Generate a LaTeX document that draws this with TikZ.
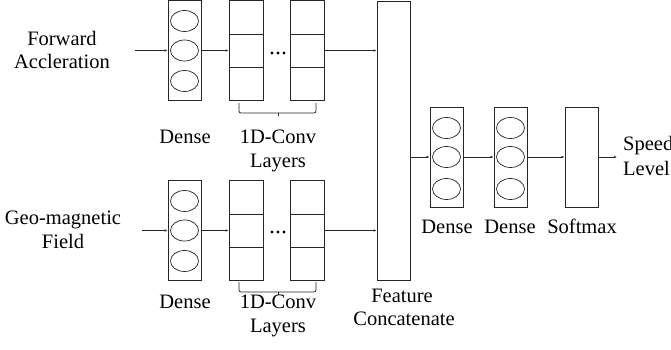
\documentclass[tikz,border=0pt]{standalone}
\usepackage{fontspec}
\setmainfont{Liberation Serif}
\usetikzlibrary{arrows.meta,shapes.geometric}
\begin{document}
\begin{tikzpicture}[x=1pt,y=-1pt,
  lay/.style={draw=black!85,line width=0.8pt,inner sep=0pt,minimum width=33pt,minimum height=100pt},
  tall/.style={draw=black!85,line width=0.8pt,inner sep=0pt,minimum width=33pt,minimum height=279pt},
  neuron/.style={draw=black!85,line width=0.7pt,ellipse,inner sep=0pt,minimum width=28pt,minimum height=21pt},
  div/.style={draw=black!85,line width=0.8pt},
  conn/.style={draw=black!85,line width=0.8pt,-{Latex[length=3pt,width=2.5pt]}},
  brace/.style={draw=black!85,line width=0.8pt,rounded corners=2pt},
  lbl/.style={font=\fontsize{20.5}{24}\selectfont,inner sep=0pt,anchor=base},
  lbl2/.style={font=\fontsize{20.5}{23.5}\selectfont,inner sep=0pt,align=center},
  dot/.style={fill=black,circle,inner sep=0pt,minimum size=3.2pt}
]
\useasboundingbox (0,0) rectangle (671,350);

% ---------- top branch ----------
\node[lbl2] (in1) at (62,50) {Forward\\Accleration};
\coordinate (s1) at (135,50.5);
\node[lay] (d1) at (184.5,50.5) {};
\node[neuron] (d1a) at (184.5,21) {};
\node[neuron] (d1b) at (184.5,50.5) {};
\node[neuron] (d1c) at (184.5,81) {};
\node[lay,minimum width=34pt] (c1a) at (246,50.5) {};
\node[lay,minimum width=34pt] (c1b) at (307.5,50.5) {};
\draw[div] (c1a.west |- 0,34) -- (c1a.east |- 0,34);
\draw[div] (c1a.west |- 0,67) -- (c1a.east |- 0,67);
\draw[div] (c1b.west |- 0,34) -- (c1b.east |- 0,34);
\draw[div] (c1b.west |- 0,67) -- (c1b.east |- 0,67);
\node[dot] (t1) at (272,53) {};
\node[dot] (t2) at (278,53) {};
\node[dot] (t3) at (284,53) {};
\draw[brace] (239,103) -- (239,113) -- (316,113) -- (316,103);
\draw[div] (278,113) -- (278,116);
\node[lbl] (l1) at (185,143) {Dense};
\node[lbl] (l2) at (278,143) {1D-Conv};
\node[lbl] (l3) at (278,167) {Layers};

% ---------- bottom branch ----------
\node[lbl2] (in2) at (63,230) {Geo-magnetic\\Field};
\coordinate (s2) at (142,230.5);
\node[lay] (d2) at (184.5,230.5) {};
\node[neuron] (d2a) at (184.5,201) {};
\node[neuron] (d2b) at (184.5,230.5) {};
\node[neuron] (d2c) at (184.5,261) {};
\node[lay,minimum width=34pt] (c2a) at (246,230.5) {};
\node[lay,minimum width=34pt] (c2b) at (307.5,230.5) {};
\draw[div] (c2a.west |- 0,214) -- (c2a.east |- 0,214);
\draw[div] (c2a.west |- 0,247) -- (c2a.east |- 0,247);
\draw[div] (c2b.west |- 0,214) -- (c2b.east |- 0,214);
\draw[div] (c2b.west |- 0,247) -- (c2b.east |- 0,247);
\node[dot] (b1) at (272,232) {};
\node[dot] (b2) at (278,232) {};
\node[dot] (b3) at (284,232) {};
\draw[brace] (239,282) -- (239,292) -- (316,292) -- (316,282);
\draw[div] (278,292) -- (278,295);
\node[lbl] (l4) at (185,308) {Dense};
\node[lbl] (l5) at (278,308) {1D-Conv};
\node[lbl] (l6) at (278,332) {Layers};

% ---------- concatenate ----------
\node[tall] (cat) at (393.5,140.5) {};
\node[lbl] (l7) at (402,302) {Feature};
\node[lbl] (l8) at (404,325) {Concatenate};

% ---------- head ----------
\node[lay] (d3) at (446.5,157) {};
\node[neuron] (d3a) at (446.5,128) {};
\node[neuron] (d3b) at (446.5,157) {};
\node[neuron] (d3c) at (446.5,189) {};
\node[lay] (d4) at (510.5,157) {};
\node[neuron] (d4a) at (510.5,128) {};
\node[neuron] (d4b) at (510.5,157) {};
\node[neuron] (d4c) at (510.5,189) {};
\node[lay] (sm) at (581.5,157) {};
\coordinate (out) at (617,157);
\node[lbl] (l9) at (447,233) {Dense};
\node[lbl] (l10) at (510,233) {Dense};
\node[lbl] (l11) at (582,233) {Softmax};
\node[lbl,anchor=base west] (l12) at (623,150) {Speed};
\node[lbl,anchor=base west] (l13) at (623,175) {Level};

% ---------- connectors ----------
\draw[conn] (s1) -- (d1.west |- s1);
\draw[conn] (d1.east |- s1) -- (c1a.west |- s1);
\draw[conn] (c1b.east |- s1) -- (cat.west |- s1);
\draw[conn] (s2) -- (d2.west |- s2);
\draw[conn] (d2.east |- s2) -- (c2a.west |- s2);
\draw[conn] (c2b.east |- s2) -- (cat.west |- s2);
\draw[conn] (cat.east |- d3) -- (d3.west);
\draw[conn] (d3.east) -- (d4.west);
\draw[conn] (d4.east) -- (sm.west);
\draw[conn] (sm.east) -- (out);
\end{tikzpicture}
\end{document}
